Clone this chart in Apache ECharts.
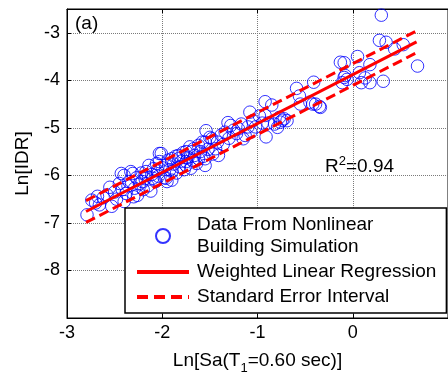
<!DOCTYPE html>
<html>
<head>
<meta charset="utf-8">
<script src="https://cdn.jsdelivr.net/npm/echarts@6/dist/echarts.min.js"></script>
<style>html,body{margin:0;padding:0;background:#fff;}#c{width:448px;height:380px;}</style>
</head>
<body>
<div id="c"></div>
<script>
// Simulation data points [Ln Sa, Ln IDR]
var simPoints = [
  [-2.79,-6.83],[-2.74,-6.52],[-2.70,-6.58],[-2.68,-6.44],[-2.66,-6.62],[-2.62,-6.47],[-2.58,-6.41],[-2.55,-6.25],
  [-2.53,-6.65],[-2.50,-6.35],[-2.48,-6.50],[-2.45,-6.17],[-2.43,-5.96],[-2.42,-6.30],[-2.40,-6.55],[-2.40,-6.00],
  [-2.38,-6.38],[-2.36,-6.22],[-2.35,-6.13],[-2.33,-5.92],[-2.31,-5.96],[-2.30,-6.45],
  [-2.29,-6.27],[-2.27,-6.05],[-2.26,-6.42],[-2.24,-6.18],[-2.22,-5.95],[-2.21,-6.13],[-2.20,-6.30],[-2.18,-6.07],
  [-2.17,-5.92],[-2.17,-6.00],[-2.15,-6.22],[-2.14,-5.79],[-2.12,-6.33],[-2.11,-5.98],[-2.10,-6.06],[-2.09,-5.86],
  [-2.07,-6.13],[-2.06,-5.75],[-2.05,-5.90],[-2.04,-6.02],[-2.03,-5.54],[-2.03,-5.71],[-2.01,-5.54],[-2.00,-5.84],
  [-1.98,-6.05],[-1.96,-5.79],[-1.96,-6.06],[-1.95,-6.13],[-1.94,-5.68],[-1.92,-5.88],[-1.90,-5.65],[-1.90,-5.92],
  [-1.90,-6.10],[-1.88,-5.76],[-1.86,-5.60],[-1.85,-5.95],[-1.83,-5.58],[-1.83,-5.65],[-1.82,-5.82],
  [-1.80,-5.70],[-1.78,-5.52],[-1.77,-5.88],[-1.75,-5.50],[-1.75,-5.71],[-1.75,-5.79],[-1.73,-5.62],[-1.71,-5.40],
  [-1.70,-5.85],[-1.69,-5.50],[-1.68,-5.68],[-1.67,-5.44],[-1.66,-5.58],[-1.64,-5.75],[-1.62,-5.37],[-1.62,-5.65],
  [-1.60,-5.50],[-1.58,-5.30],[-1.57,-5.60],[-1.55,-5.30],[-1.55,-5.65],[-1.55,-5.79],[-1.54,-5.06],[-1.52,-5.45],
  [-1.50,-5.20],[-1.48,-5.23],[-1.47,-5.55],[-1.44,-5.44],[-1.42,-5.30],[-1.41,-5.58],[-1.38,-5.15],[-1.36,-5.35],
  [-1.34,-5.09],[-1.31,-4.89],[-1.30,-5.22],[-1.28,-4.95],[-1.25,-5.05],[-1.22,-5.12],[-1.20,-5.02],[-1.17,-4.92],
  [-1.15,-5.23],[-1.13,-5.16],[-1.10,-4.98],[-1.08,-4.67],[-1.07,-5.09],[-1.05,-4.85],[-1.02,-4.98],[-0.98,-4.75],
  [-0.95,-4.90],[-0.92,-4.45],[-0.92,-4.74],[-0.91,-5.19],[-0.89,-4.90],[-0.85,-4.52],[-0.82,-4.92],[-0.79,-4.99],
  [-0.77,-4.78],[-0.76,-4.88],[-0.74,-4.84],[-0.72,-4.81],[-0.69,-4.85],
  [-0.59,-4.17],[-0.56,-4.33],[-0.55,-4.50],[-0.45,-4.46],[-0.42,-4.50],[-0.41,-4.04],[-0.39,-4.50],[-0.35,-4.55],
  [-0.34,-4.57],[-0.13,-3.62],[-0.09,-3.63],[-0.09,-3.94],[-0.06,-3.98],[-0.11,-4.05],[-0.08,-3.90],[0.05,-3.50],
  [0.07,-3.84],[0.09,-4.05],[0.13,-3.95],[0.18,-3.67],[0.18,-4.05],[0.28,-3.16],[0.30,-2.63],[0.32,-4.02],
  [0.35,-3.20],[0.44,-3.34],[0.53,-3.25],[0.68,-3.70]
];
// Regression line and standard error interval (end points)
var regX = [-2.80, 0.67];
var regY = [-6.76, -3.19];
var upperY = [-6.53, -2.96];
var lowerY = [-6.99, -3.42];
// Axis ticks
var xTicks = [-3, -2, -1, 0];
var yTicks = [-8, -7, -6, -5, -4, -3];

var seriesNames = ['Data From Nonlinear\nBuilding Simulation', 'Weighted Linear Regression', 'Standard Error Interval'];

function pairs(xs, ys) { return xs.map(function (x, i) { return [x, ys[i]]; }); }

var FONT = 'Liberation Sans, Arial, sans-serif';
var chart = echarts.init(document.getElementById('c'), null, { renderer: 'canvas' });
chart.setOption({
  animation: false,
  backgroundColor: '#fff',
  textStyle: { fontFamily: FONT },
  grid: { left: 67, top: 9, width: 385, height: 311, show: true, borderColor: '#000', borderWidth: 1, backgroundColor: 'transparent' },
  xAxis: [{
    type: 'value', min: -3, max: 1, interval: 1, gridIndex: 0,
    name: 'Ln[Sa(T{sub|1}=0.60 sec)]', nameLocation: 'middle', nameGap: 28,
    nameTextStyle: { fontSize: 19, color: '#000', fontFamily: FONT, rich: { sub: { fontSize: 13, verticalAlign: 'bottom', padding: [16, 0, 0, 0], fontFamily: FONT, color: '#000' } } },
    axisLine: { show: true, onZero: false, lineStyle: { color: '#000', width: 1 } },
    axisTick: { inside: true, length: 4, lineStyle: { color: '#000' } },
    axisLabel: { fontSize: 18, color: '#000', margin: 6, showMaxLabel: false, fontFamily: FONT,
      formatter: function (v) { return xTicks.indexOf(v) >= 0 ? String(v) : ''; } },
    splitLine: { show: true, lineStyle: { color: '#7a7a7a', type: [1, 1], width: 1 } }
  }, {
    type: 'value', min: -3, max: 1, interval: 1, gridIndex: 0, position: 'top',
    axisLine: { show: true, onZero: false, lineStyle: { color: '#000', width: 1 } },
    axisTick: { inside: true, length: 4, lineStyle: { color: '#000' } },
    axisLabel: { show: false }, splitLine: { show: false }
  }],
  yAxis: [{
    type: 'value', min: -9, max: -2.5, interval: 1,
    name: 'Ln[IDR]', nameLocation: 'middle', nameGap: 35,
    nameTextStyle: { fontSize: 19, color: '#000', fontFamily: FONT },
    axisLine: { show: true, onZero: false, lineStyle: { color: '#000', width: 1 } },
    axisTick: { inside: true, length: 4, lineStyle: { color: '#000' } },
    axisLabel: { fontSize: 18, color: '#000', margin: 7, showMinLabel: false, showMaxLabel: false, fontFamily: FONT,
      formatter: function (v) { return yTicks.indexOf(v) >= 0 ? String(v) : ''; } },
    splitLine: { show: true, lineStyle: { color: '#7a7a7a', type: [1, 1], width: 1 } }
  }],
  legend: {
    orient: 'vertical', left: 125, top: 208,
    data: [
      { name: seriesNames[0] },
      { name: seriesNames[1], itemStyle: { opacity: 0 }, lineStyle: { width: 4 } },
      { name: seriesNames[2], itemStyle: { opacity: 0 }, lineStyle: { width: 4, type: [11, 6] } }
    ],
    backgroundColor: '#fff', borderColor: '#000', borderWidth: 1.5,
    padding: [6, 10, 5, 10], itemGap: 3, itemWidth: 52, itemHeight: 14,
    textStyle: { fontSize: 19, color: '#000', lineHeight: 22, fontFamily: FONT, padding: [0, 0, 0, 3] }
  },
  graphic: [
    { type: 'text', left: 75, top: 14, style: { text: '(a)', fontSize: 19, fill: '#000', fontFamily: FONT } },
    { type: 'text', left: 325, top: 155, style: { text: 'R{sup|2}=0.94', fontSize: 19, fill: '#000', fontFamily: FONT,
      rich: { sup: { fontSize: 13, verticalAlign: 'top', padding: [0, 0, 10, 0], fontFamily: FONT, fill: '#000' } } } }
  ],
  series: [
    {
      name: seriesNames[0], type: 'scatter', data: simPoints,
      symbol: 'circle', symbolSize: 12.5,
      itemStyle: { color: 'rgba(0,0,0,0)', borderColor: '#0000ff', borderWidth: 1 },
      z: 2
    },
    {
      name: seriesNames[1], type: 'line', data: pairs(regX, regY), symbol: 'none',
      lineStyle: { color: '#ff0000', width: 3 }, itemStyle: { color: '#ff0000' }, z: 3
    },
    {
      name: seriesNames[2], type: 'line', data: pairs(regX, upperY), symbol: 'none',
      lineStyle: { color: '#ff0000', width: 3, type: [10, 5] }, itemStyle: { color: '#ff0000' }, z: 3
    },
    {
      name: seriesNames[2], type: 'line', data: pairs(regX, lowerY), symbol: 'none',
      lineStyle: { color: '#ff0000', width: 3, type: [10, 5] }, itemStyle: { color: '#ff0000' }, z: 3
    }
  ]
});
</script>
</body>
</html>
